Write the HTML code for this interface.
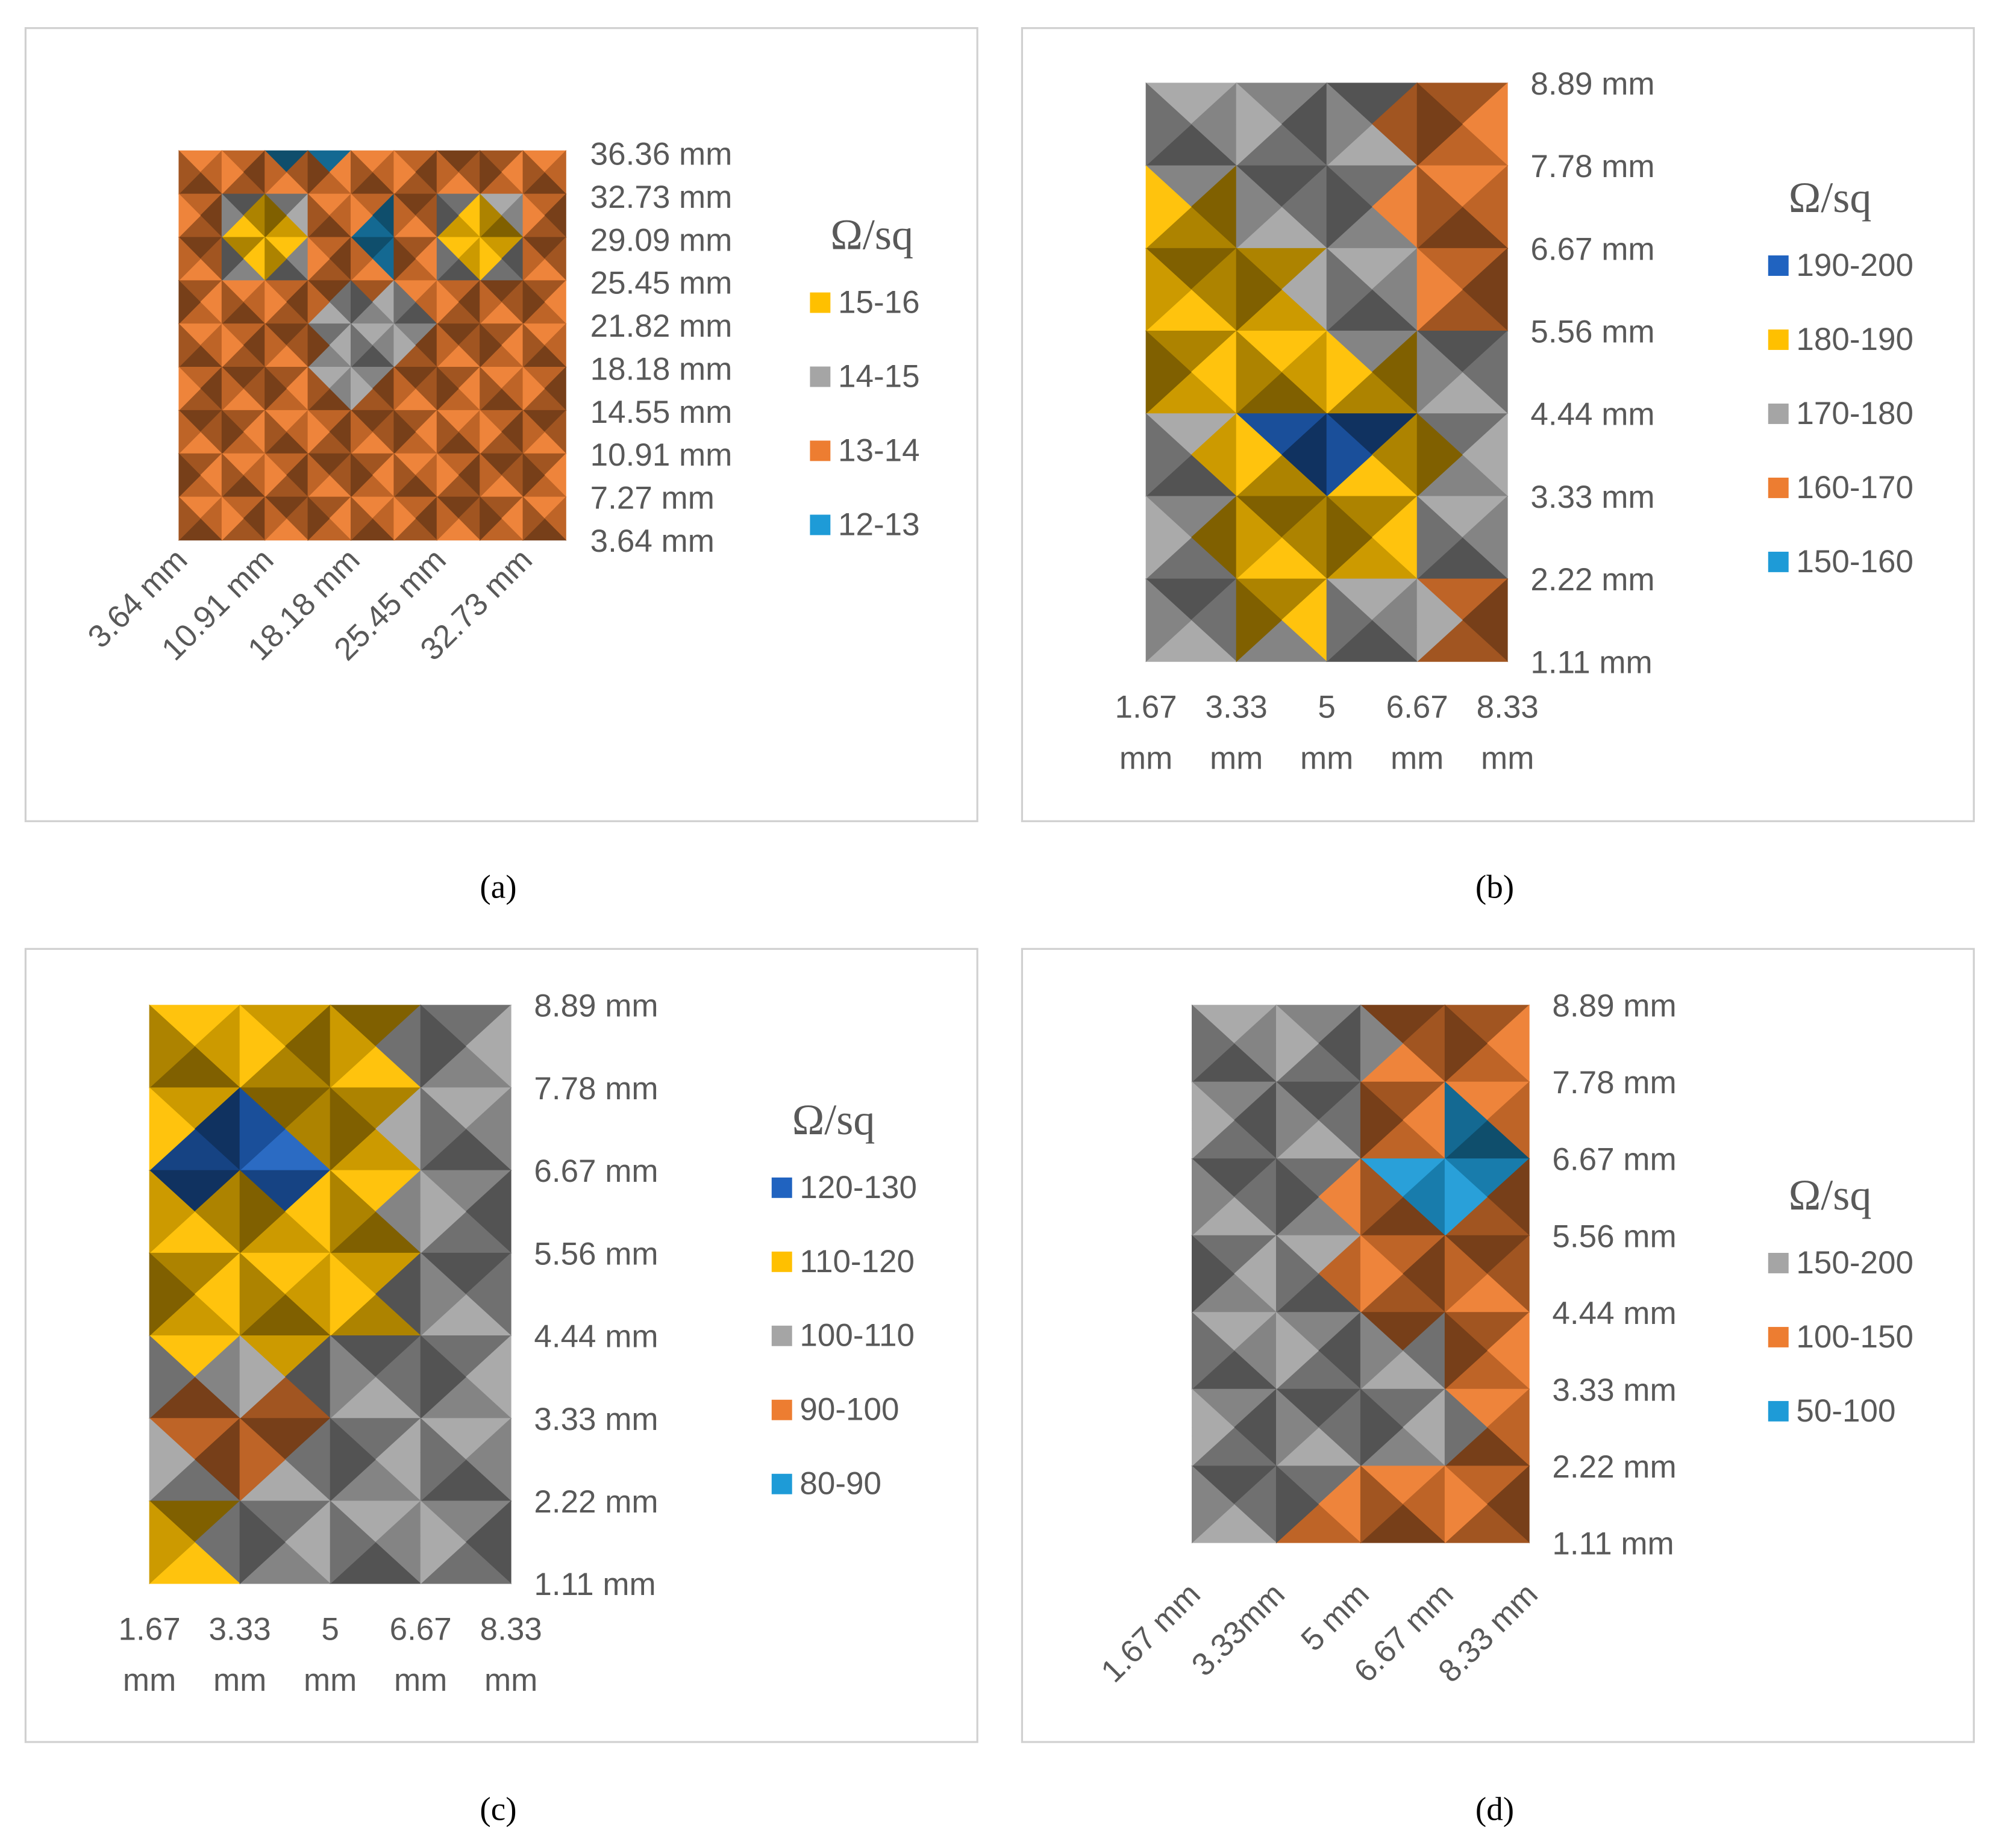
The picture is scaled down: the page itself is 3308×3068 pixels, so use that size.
<!DOCTYPE html>
<html><head><meta charset="utf-8"><style>
html,body{margin:0;padding:0;background:#fff;}
svg{display:block;}
text{font-family:"Liberation Sans",sans-serif;fill:#595959;}
.t{font-family:"Liberation Serif",serif;}
</style></head><body>
<svg id="root" width="3308" height="3068" viewBox="0 0 1560 1447" preserveAspectRatio="none" xmlns="http://www.w3.org/2000/svg"></svg>
<script>
// ---- data ----
const aYLabels=["36.36 mm","32.73 mm","29.09 mm","25.45 mm","21.82 mm","18.18 mm","14.55 mm","10.91 mm","7.27 mm","3.64 mm"];
const aXLabels=["3.64 mm","10.91 mm","18.18 mm","25.45 mm","32.73 mm"];
const aLegend=["15-16","14-15","13-14","12-13"];
const aValues=[
[13.5,13.5,13.5,12.0,13.5,13.5,13.5,13.5,13.5,13.5],
[13.5,14.0,14.0,14.0,13.5,13.5,14.0,14.0,14.0,13.5],
[13.5,14.0,18.0,14.0,13.5,12.2,14.0,18.0,14.0,12.2],
[13.5,14.0,14.0,14.0,13.5,13.5,14.0,14.0,14.0,13.5],
[13.5,13.5,13.5,13.5,15.0,15.0,13.5,13.5,13.5,13.5],
[13.5,13.5,13.5,13.5,15.0,13.5,13.5,13.5,12.9,13.5],
[13.5,13.5,13.5,13.5,13.5,13.5,13.5,13.5,13.5,13.5],
[13.5,13.5,13.5,13.5,13.5,13.5,13.5,13.5,13.5,13.5],
[13.5,13.5,13.5,13.5,13.5,13.5,13.5,13.5,13.5,13.5],
[13.5,13.5,13.5,13.5,13.5,13.5,13.5,13.5,13.5,13.5]];
const bYLabels=["8.89 mm","7.78 mm","6.67 mm","5.56 mm","4.44 mm","3.33 mm","2.22 mm","1.11 mm"];
const bXLabels=["1.67","3.33","5","6.67","8.33"];
const bLegend=["190-200","180-190","170-180","160-170","150-160"];
const bValues=[
[175,175,175,165,165],
[175,175,175,165,165],
[185,185,175,165,165],
[185,185,175,175,165],
[175,185,198,185,175],
[175,183,185,183,175],
[175,185,185,175,165],
[175,175,175,170,165]];
const cYLabels=["8.89 mm","7.78 mm","6.67 mm","5.56 mm","4.44 mm","3.33 mm","2.22 mm","1.11 mm"];
const cXLabels=["1.67","3.33","5","6.67","8.33"];
const cLegend=["120-130","110-120","100-110","90-100","80-90"];
const cValues=[
[115,115,115,105,105],
[115,121,118,110,105],
[121,124,118,105,105],
[115,115,115,105,105],
[115,115,115,105,105],
[105,85,105,105,105],
[115,105,105,105,105],
[115,105,105,105,105]];
const dYLabels=["8.89 mm","7.78 mm","6.67 mm","5.56 mm","4.44 mm","3.33 mm","2.22 mm","1.11 mm"];
const dXLabels=["1.67 mm","3.33mm","5 mm","6.67 mm","8.33 mm"];
const dLegend=["150-200","100-150","50-100"];
const dValues=[
[175,175,160,125,125],
[175,175,175,125,125],
[175,175,125,60,125],
[175,175,125,125,125],
[175,175,125,125,125],
[175,175,175,175,125],
[175,175,160,140,125],
[175,140,125,125,125]];

const NS="http://www.w3.org/2000/svg";
const root=document.getElementById('root');
function el(tag,attrs,parent){const e=document.createElementNS(NS,tag);for(const k in attrs)e.setAttribute(k,attrs[k]);(parent||root).appendChild(e);return e;}
function shade(hex,f){const n=parseInt(hex.slice(1),16);let r=n>>16,g=(n>>8)&255,b=n&255;
 if(f>1){r=r+(255-r)*(f-1);g=g+(255-g)*(f-1);b=b+(255-b)*(f-1);}else{r*=f;g*=f;b*=f;}
 return `rgb(${Math.round(r)},${Math.round(g)},${Math.round(b)})`;}

function contour(name,vals,x0,y0,x1,y1,bmin,bw,colors){
 const g=el('g',{});
 
 
 const R=vals.length,C=vals[0].length;
 const sx=c=>x0+(x1-x0)*c/(C-1), sy=r=>y0+(y1-y0)*r/(R-1);
 const fac=[1.05,0.8,0.5,0.68];
 for(let r=0;r<R-1;r++)for(let c=0;c<C-1;c++){
  const tl=vals[r][c],tr=vals[r][c+1],bl=vals[r+1][c],br=vals[r+1][c+1];
  const ctr=(tl+tr+bl+br)/4;
  const cx=(sx(c)+sx(c+1))/2,cy=(sy(r)+sy(r+1))/2;
  const tris=[[[sx(c),sy(r)],[sx(c+1),sy(r)],(tl+tr+ctr)/3],
   [[sx(c+1),sy(r)],[sx(c+1),sy(r+1)],(tr+br+ctr)/3],
   [[sx(c+1),sy(r+1)],[sx(c),sy(r+1)],(br+bl+ctr)/3],
   [[sx(c),sy(r+1)],[sx(c),sy(r)],(bl+tl+ctr)/3]];
  tris.forEach((t,i)=>{
   let bi=Math.floor((t[2]-bmin)/bw);bi=Math.max(0,Math.min(colors.length-1,bi));
   const f=fac[(i+r+c)%4];
   const p=el('polygon',{points:`${t[0][0]},${t[0][1]} ${t[1][0]},${t[1][1]} ${cx},${cy}`,fill:shade(colors[bi],f),stroke:shade(colors[bi],f),'stroke-width':0.4},g);
   
   
  });
 }
}
function txt(name,x,y,s,size,anchor,extra){const t=el('text',Object.assign({x:x,y:y,'font-size':size,'text-anchor':anchor||'start'},extra||{}));t.textContent=s;
 
 
 return t;}
function frame(name,x,y){const r=el('rect',{x:x,y:y,width:745,height:621,fill:'#fff',stroke:'#d0d0d0','stroke-width':1.5});
 
 }
function yLabels(labels,x,y0,y1){labels.forEach((l,i)=>txt('y-tick-label',x,y0+(y1-y0)*i/(labels.length-1)+9,l,25));}
function xLabels2(labels,x0,x1,y){labels.forEach((l,i)=>{const x=x0+(x1-x0)*i/(labels.length-1);txt('x-tick-label',x,y,l,25,'middle');txt('x-tick-unit',x,y+40,'mm',25,'middle');});}
function xLabelsRot(labels,x0,x1,y){labels.forEach((l,i)=>{const x=x0+(x1-x0)*i/(labels.length-1);txt('x-tick-label',x+8,y,l,25,'end',{transform:`rotate(-45 ${x+8} ${y})`});});}
function legend(labels,colors,x,y0,dy){txt('legend-title',x+16,y0-48,'Ω/sq',34,'start',{class:'t'});
 labels.forEach((l,i)=>{const y=y0+dy*i;const r=el('rect',{x:x,y:y-14,width:16,height:16,fill:colors[i]});
 
 
 txt('legend-entry',x+22,y+2,l,25);});}

const Y='#FFC000',G='#A5A5A5',O='#ED7D31',LB='#1E9BD7',DB='#2063C0';
// (a)
frame('panel-a-frame',20,22);
contour('panel-a-contour',aValues,140,118,443,423,12,1,[LB,O,G,Y]);
yLabels(aYLabels,462,120,423);
xLabelsRot(aXLabels,140,410,440);
legend(aLegend,[Y,G,O,LB],634,243,58);
// (b)
frame('panel-b-frame',800,22);
contour('panel-b-contour',bValues,897,65,1180,518,150,10,[LB,O,G,Y,DB]);
yLabels(bYLabels,1198,65,518);
xLabels2(bXLabels,897,1180,562);
legend(bLegend,[DB,Y,G,O,LB],1384,214,58);
// (c)
frame('panel-c-frame',20,743);
contour('panel-c-contour',cValues,117,787,400,1240,80,10,[LB,O,G,Y,DB]);
yLabels(cYLabels,418,787,1240);
xLabels2(cXLabels,117,400,1284);
legend(cLegend,[DB,Y,G,O,LB],604,936,58);
// (d)
frame('panel-d-frame',800,743);
contour('panel-d-contour',dValues,933,787,1197,1208,50,50,[LB,O,G]);
yLabels(dYLabels,1215,787,1208);
xLabelsRot(dXLabels,933,1197,1250);
legend(dLegend,[G,O,LB],1384,995,58);
// captions
[['(a)',390,703],['(b)',1170,703],['(c)',390,1425],['(d)',1170,1425]].forEach(c=>txt('panel-caption',c[1],c[2],c[0],26,'middle',{class:'t',style:'fill:#000'}));
</script>
</body></html>
